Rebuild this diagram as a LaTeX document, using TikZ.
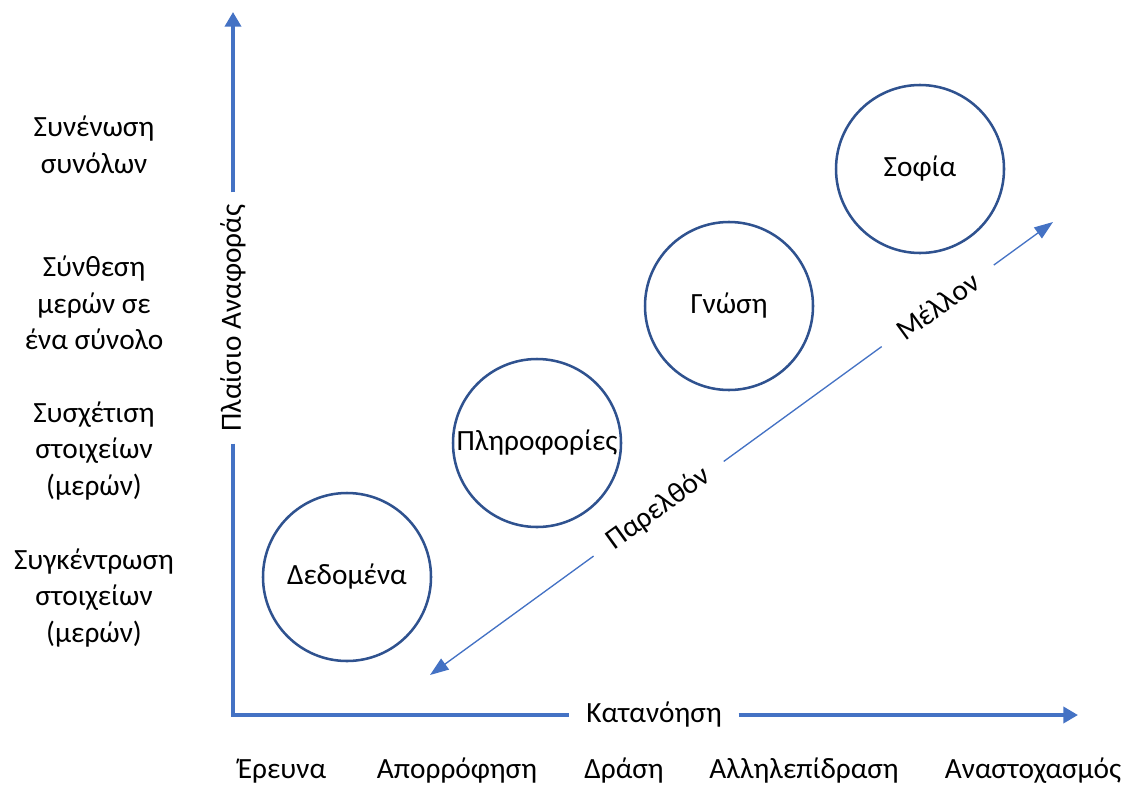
\documentclass[tikz,border=0pt]{standalone}
\usepackage{fontspec}
\setmainfont{Carlito}
\usetikzlibrary{arrows.meta,calc}
\begin{document}
\begin{tikzpicture}[x=0.75pt,y=-0.75pt,
  font=\fontsize{22}{27.5}\selectfont,
  axis/.style={draw={rgb,255:red,68;green,114;blue,196},line width=3pt},
  axistip/.style={-{Triangle[length=11pt,width=12pt]}},
  timeline/.style={draw={rgb,255:red,68;green,114;blue,196},line width=1pt},
  timetip/.style={-{Triangle[length=14pt,width=10pt]}},
  stage/.style={circle,draw={rgb,255:red,47;green,82;blue,143},line width=1.9pt,minimum size=126pt,inner sep=0pt},
  level/.style={align=center,inner sep=0pt},
  action/.style={anchor=base,inner sep=0pt}
]
\useasboundingbox (0,0) rectangle (1130,785);

% axes
\coordinate (O) at (233,715);
\coordinate (ytip) at (233,12);
\coordinate (xtip) at (1078,715);
\node[rotate=90,inner xsep=9pt,inner ysep=2pt] (ylab) at (233,318) {Πλαίσιο Αναφοράς};
\node[inner xsep=12.5pt,inner ysep=2pt] (xlab) at (654,715) {Κατανόηση};
\draw[axis,line join=miter] (ylab) -- (O) -- (xlab);
\draw[axis,axistip] (ylab) -- (ytip);
\draw[axis,axistip] (xlab) -- (xtip);

% levels of the reference frame
\node[level] (l1) at (94,145) {Συνένωση\\συνόλων};
\node[level] (l2) at (94,303) {Σύνθεση\\μερών σε\\ένα σύνολο};
\node[level] (l3) at (94,451) {Συσχέτιση\\στοιχείων\\(μερών)};
\node[level] (l4) at (94,598) {Συγκέντρωση\\στοιχείων\\(μερών)};

% actions along the understanding axis
\node[action] (a1) at (282,778) {Έρευνα};
\node[action] (a2) at (457,778) {Απορρόφηση};
\node[action] (a3) at (624,778) {Δράση};
\node[action] (a4) at (804,778) {Αλληλεπίδραση};
\node[action] (a5) at (1033,778) {Αναστοχασμός};

% stages
\node[stage] (data) at (347,577) {Δεδομένα};
\node[stage] (info) at (537,443) {Πληροφορίες};
\node[stage] (know) at (729,306) {Γνώση};
\node[stage] (wis) at (920,169) {Σοφία};

% past / future time line
\coordinate (past) at (430,675);
\coordinate (fut) at (1053,222);
\node[rotate=36,inner xsep=15pt,inner ysep=2pt] (pastlab) at ($(past)!0.367!(fut)$) {Παρελθόν};
\node[rotate=36,inner xsep=16.5pt,inner ysep=2pt] (futlab) at ($(past)!0.815!(fut)$) {Μέλλον};
\draw[timeline,timetip] (pastlab) -- (past);
\draw[timeline] (pastlab) -- (futlab);
\draw[timeline,timetip] (futlab) -- (fut);
\end{tikzpicture}
\end{document}
